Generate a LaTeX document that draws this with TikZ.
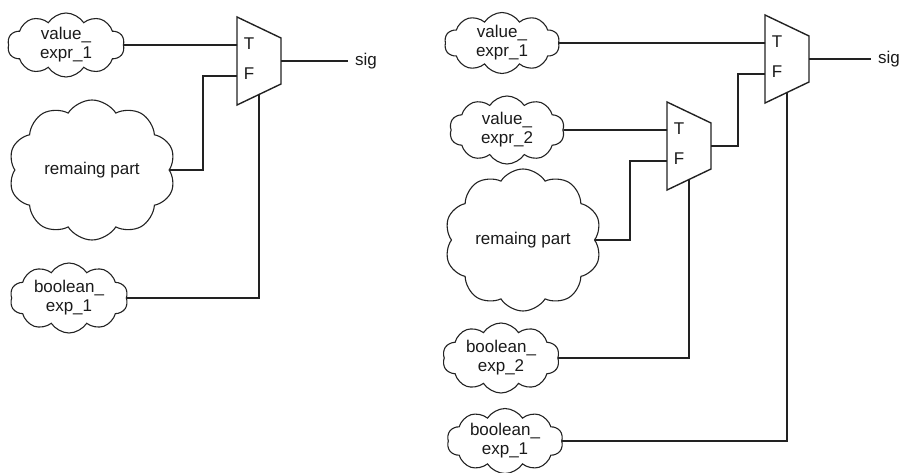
\documentclass[tikz,border=0pt]{standalone}
\usepackage{fontspec}
\setmainfont{Liberation Sans}
\usetikzlibrary{calc, shapes.symbols}

\begin{document}
\begin{tikzpicture}[x=1pt, y=-1pt]
    % Define colours
    \definecolor{borderColour}{HTML}{222222}
    \definecolor{textColour}{HTML}{1A1A1A}

    % Define styles
    \tikzset{
        blob/.style={cloud, cloud puffs=10, cloud puff arc=115, cloud ignores aspect,
            draw=borderColour, line width=1.1pt, inner sep=0pt, align=center,
            text=textColour, font=\fontsize{17}{19}\selectfont},
        wire/.style={draw=borderColour, line width=1.7pt},
        muxlabel/.style={text=textColour, font=\fontsize{17}{19}\selectfont, inner sep=0pt},
        mux/.pic={
            \draw[wire, line width=1.4pt] (0,0) -- (44,21) -- (44,67) -- (0,88) -- cycle;
            \node[muxlabel] (-T) at (12,27) {T};
            \node[muxlabel] (-F) at (12,57) {F};
            \coordinate (-in1) at (0,28);
            \coordinate (-in0) at (0,59);
            \coordinate (-out) at (44,44);
            \coordinate (-sel) at (22,77);
        }
    }

    % Fix the page size
    \useasboundingbox (0,0) rectangle (904,473);

    % Left: one conditional
    \pic (mA) at (237,17) {mux};
    \node[blob, minimum width=117pt, minimum height=64pt] (vA1) at (66,45) {value\_\\expr\_1};
    \node[blob, minimum width=167pt, minimum height=140pt] (remA) at (92,170) {remaing part};
    \node[blob, minimum width=118pt, minimum height=70pt] (bA1) at (69,298) {boolean\_\\exp\_1};
    \node[muxlabel, anchor=west] (sigA) at ($(mA-out)+(74,0)$) {sig};

    \draw[wire] (vA1.east) -- (mA-in1);
    \draw[wire] (mA-in0) -- ++(-34,0) |- (remA.east);
    \draw[wire] (mA-sel) |- (bA1.east);
    \draw[wire] (mA-out) -- ($(sigA.west)+(-7,0)$);

    % Right: two nested conditionals
    \pic (mB) at (765,15) {mux};
    \pic (mC) at (667,102) {mux};
    \node[blob, minimum width=115pt, minimum height=61pt] (vB1) at (502,43) {value\_\\expr\_1};
    \node[blob, minimum width=115pt, minimum height=68pt] (vB2) at (507,130) {value\_\\expr\_2};
    \node[blob, minimum width=157pt, minimum height=142pt] (remB) at (523,240) {remaing part};
    \node[blob, minimum width=117pt, minimum height=70pt] (bB2) at (501,358) {boolean\_\\exp\_2};
    \node[blob, minimum width=116pt, minimum height=65pt] (bB1) at (505,441) {boolean\_\\exp\_1};
    \node[muxlabel, anchor=west] (sigB) at ($(mB-out)+(69,0)$) {sig};

    \draw[wire] (vB1.east) -- (mB-in1);
    \draw[wire] (vB2.east) -- (mC-in1);
    \draw[wire] (mB-in0) -- ++(-27,0) |- (mC-out);
    \draw[wire] (mC-in0) -- ++(-37,0) |- (remB.east);
    \draw[wire] (mC-sel) |- (bB2.east);
    \draw[wire] (mB-sel) |- (bB1.east);
    \draw[wire] (mB-out) -- ($(sigB.west)+(-7,0)$);
\end{tikzpicture}
\end{document}
